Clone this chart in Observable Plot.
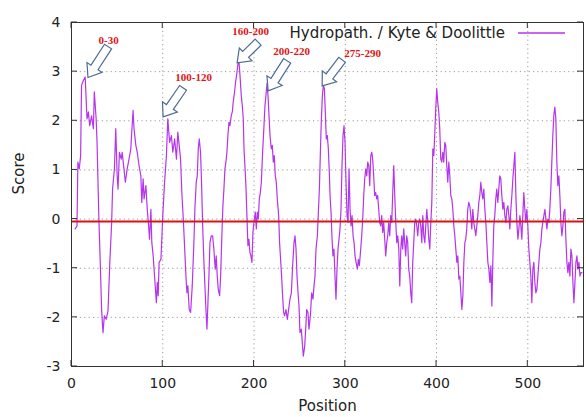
<!DOCTYPE html>
<html><head><meta charset="utf-8">
<script src="https://cdn.jsdelivr.net/npm/d3@7"></script>
<script src="https://cdn.jsdelivr.net/npm/@observablehq/plot@0.6"></script>
<style>html,body{margin:0;padding:0;background:#fff}#chart svg{display:block}</style>
</head><body><div id="chart"></div>
<script>
// Kyte & Doolittle hydropathy profile: [position, score]
const profile = [
[4,-0.2],[6,-0.14],[7,1.16],[8.5,1.02],[10,1.29],[11,2.72],[13,2.82],[15,2.89],[17,2.04],[18.5,2.18],[20,1.9],[22,2.1],[24,1.84],[25,2.59],[27,2.04],[28,1.56],[30,0],[31.5,-0.88],[33,-1.84],[34.5,-2.31],[36,-1.97],[38,-2.04],[40,-1.87],[42,-0.88],[44,-0.07],[45,0.61],[47,1.02],[48.5,1.84],[50,0.88],[51,0.61],[52.5,1.36],[54.5,1.22],[55.5,1.36],[57.5,1.02],[59,0.75],[61,1.02],[63,1.22],[65,1.43],[66,1.77],[67.5,2.21],[68.5,1.84],[70.5,1.5],[72,1.36],[74,1.09],[76,0.88],[77,0.34],[78.5,0.82],[79.5,0.41],[81.5,0.68],[83,0.2],[84.5,-0.14],[85.5,-0.41],[87,0.2],[88,-0.48],[89.5,-0.75],[91,-1.16],[92,-1.43],[93,-1.7],[94,-1.29],[95,-1.56],[96,-0.88],[98,-0.82],[100,0.07],[102,0.75],[104,1.29],[105.5,2.04],[107.5,1.56],[109.5,1.7],[111,1.36],[113,1.63],[115,1.22],[116.5,1.77],[118,1.5],[119.5,1.22],
[121,0.5],[122.5,0.0],[124,-0.6],[125.5,-1.2],[126.5,-1.5],[127.5,-1.36],[129,-1.84],[130.5,-1.9],[132.3,-1.36],[134.1,-0.48],[135.2,0.2],[136.7,0.75],[137.8,0.88],[138.9,1.43],[140,1.63],[141.4,1.36],[142.5,0.75],[143.6,-0.07],[145.1,-0.88],[146.2,-1.36],[147.3,-1.84],[148.4,-2.24],[149.5,-1.7],[150.6,-1.16],[151.7,-0.48],[153.1,-0.34],[154.6,-0.34],[156,-0.61],[157.5,-1.02],[158.6,-0.75],[159.7,-1.16],[160.8,-1.43],[162.3,-1.56],[163.4,-1.16],[164.5,-0.48],
[165.9,0.27],[167,0.61],[168.1,1.02],[169.2,1.16],[170.3,1.36],[171.4,1.7],[172.5,1.97],[173.6,1.9],[175.1,2.11],[176.2,2.18],[177.2,2.38],[178.7,2.59],[179.8,2.79],[180.9,2.93],[182.4,3.16],[183.5,3.2],[184.6,2.93],[186,2.52],[187.1,2.31],[188.2,2.04],[189,1.43],[190,1.09],[191.1,0.68],[192.2,0.07],[193.3,-0.54],[194.4,-0.41],[195.5,-0.68],[196.6,-0.75],[197.7,-0.88],[198.8,-0.27],[199.9,-0.07],[201.4,0.14],[202.5,-0.2],[203.6,0.14],[204.7,0],[205.8,0.41],[206.9,0.54],[208,0.75],[209.4,1.36],[210.9,1.9],[212,2.31],[213.1,2.52],[214.2,2.76],[215.3,2.52],[216.4,2.11],[217.5,1.7],[218.9,1.43],[220,1.5],[221.1,1.16],[222.2,1.29],[223.3,0.88],[224.4,0.75],[225.5,0.41],[227,0.07],[228,-0.48],[229.1,-0.82],[230.2,-1.16],[231.3,-1.56],[232.4,-1.9],[233.5,-1.97],[235,-1.84],[236.5,-2.04],[237.9,-1.84],[239.4,-1.63],[240.9,-1.5],[242.3,-0.95],[243.8,-0.48],[244.9,-0.34],[246,-0.61],[247.1,-1.16],[248.2,-1.5],[249.3,-1.77],[250.3,-2.31],[251.8,-2.24],[252.9,-2.52],[254,-2.79],[255.5,-2.59],[256.6,-2.24],[257.7,-1.84],[259.1,-1.9],[260.2,-2.24],[261.7,-1.97],
[263.2,-1.5],[264.6,-1.63],[265.7,-1.36],[266.8,-1.16],[267.9,-0.61],[269.4,-0.34],[270.5,0.14],[271.6,0.61],[272.7,1.36],[273.8,2.04],[274.9,2.52],[276,2.72],[277.1,2.65],[278.1,2.18],[279.2,1.63],[280.3,1.7],[281.4,1.43],[282.5,0.95],[283.3,0.48],[284.4,0.14],[285.5,-0.41],[286.5,-0.75],[287.6,-0.61],[288.7,-1.16],[289.8,-1.63],[290.9,-1.02],[292,-0.61],[293.1,-0.41],[294.2,-0.2],[295.3,0.2],[296.4,1.09],[297.5,1.7],[298.6,1.9],[299.7,1.56],[300.8,0.75],[301.9,0.07],[303,-0.07],[304.1,1.02],[305.2,0.2],[306.3,-0.14],[307.4,0.07],[308.5,-0.34],[309.6,-0.48],[310.7,-0.75],[311.8,-0.88],[313.2,-1.02],[314.3,-0.82],[315.4,-0.95],[316.9,-0.61],[318,-0.34],[319.1,0],[320.2,0.48],[321.3,0.82],[322.4,1.02],[323.5,0.88],[324.6,1.16],[325.7,1.09],[326.8,0.68],[327.9,1.29],[329,1.36],[330,1.22],[331.1,0.88],[332.2,0.48],[333.3,0.54],[334.4,0.41],[335.5,0.48],[336.6,0.2],[337.7,-0.07],[338.8,-0.14],[339.9,0.07],[341,-0.27],[342.1,-0.07],[343.2,-0.41],[344.3,-0.75],[345.4,-0.48],[346.5,-0.34],[347.6,-0.07],[348.7,-0.34],[349.8,0.07],[350.9,-0.07],[352,0.54],[353.1,1.09],[354.2,0.48],[355.3,-0.07],[356.4,-0.48],[357.5,-0.34],[358.6,-0.61],[359.7,-1.36],[360.8,-0.61],[361.8,-0.34],[362.9,-0.61],[364,-0.2],[365.1,-0.48],[366.2,-0.75],[367.3,-0.34],[368.4,-0.48],[369.5,-1.02],[370.6,-1.16],[371.7,-1.5],[372.8,-1.7],[373.9,-0.88],[375,-0.48],[376.1,-0.07],[377.2,0],[378.3,-0.14],[379.4,-0.34],[380.5,-0.07],[381.6,0],[382.7,-0.14],
[383.8,-0.48],[384.9,0.07],[386,-0.34],[387.1,-0.48],[388.2,-0.14],[389.3,0.2],[390.4,-0.07],[391.5,-0.41],[392.6,-0.61],[393.7,-0.07],[394.8,0.34],[395.9,1.43],[397,1.29],[398.1,1.77],[399.1,2.24],[400.2,2.65],[401.3,2.38],[402.4,2.18],[403.5,1.84],[404.6,1.22],[405.7,1.16],[406.8,1.36],[407.9,1.16],[409,1.56],[410.1,1.5],[411.2,1.09],[412.3,0.75],[413.4,1.16],[414.5,0.88],[415.6,0.48],[416.7,0.41],[417.8,0.2],[418.9,-0.14],[420,-0.34],[421.1,-0.61],[422.2,-0.88],[423.3,-0.75],[424.4,-1.22],[425.5,-1.16],[426.6,-1.5],[427.7,-1.84],[428.8,-1.56],[429.9,-0.88],[431,-0.48],[432,-0.41],[433.1,-0.2],[434.2,0.2],[435.3,0.34],[436.4,0.27],[437.5,0.07],[438.6,-0.2],[439.7,0.2],[440.8,-0.07],[441.9,-0.2],[443,-0.34],[444.1,-0.14],[445.2,0.07],[446.3,0.34],[447.4,0.48],[448.5,0.75],[449.6,0.54],[450.7,0.41],[451.8,0.61],[452.9,0.2],[454,-0.07],[455.1,-0.48],[456.2,-0.88],[457.3,-1.02],[458.4,-1.29],[459.5,-0.95],[460.6,-1.77],[461.6,-0.88],[462.7,-0.14],[463.8,0.07],[464.9,0.41],[466,0.61],[467.1,0.34],[468.2,0.61],[469.3,0.88],[470.4,0.82],[471.5,0.48],[472.6,0.2],[473.7,0.34],[474.8,0.07],[475.9,-0.07],[477,0.2],[478.1,0.27],[479.2,0.07],[480.3,-0.2],[481.4,0.2],[482.5,0.48],[483.6,0.82],[484.7,1.09],[485.8,1.36],[486.9,0.48],[488,-0.07],[489.1,-0.41],[490.2,-0.2],[491.3,0.07],[492.4,-0.14],[493.4,-0.41],[494.5,0.07],[495.6,0.54],[496.7,0.2],[497.8,-0.07],[498.9,0.2],[500,-0.14],[501.1,-0.61],[502.2,-0.88],[503.3,-1.16],[504.4,-1.7],[505.5,-1.02],[506.6,-0.88],[507.7,-1.29],[508.8,-1.5],[509.9,-1.43],[511,-1.16],[512.1,-0.88],[513.2,-0.61],[514.3,-0.48],[515.4,-0.2],[516.5,-0.07],[517.6,0.07],[518.7,0.2],[519.8,0],[520.9,-0.2],[522,0],[523.1,-0.07],[524.1,0.2],[525.2,0.61],[526.3,1.16],[527.4,1.7],[528.5,2.11],[529.6,2.28],[530.7,2.04],[531.8,1.16],[532.9,0.68],[534,0.88],[535.1,0.48],[536.2,-0.07],[537.3,-0.34],[538.4,-0.14],[539.5,0.14],[540.6,0.2],[541.7,-0.41],[542.8,-0.88],[543.9,-1.09],[545,-0.88],[546.1,-1.16],[547.2,-0.61],[548.3,-0.75],[549.4,-1.29],[550.5,-1.7],[551.6,-1.29],[552.7,-0.88],[553.8,-0.75],[554.9,-1.02],[556,-0.88],[557.1,-1.16],[558.2,-1.09],[559.3,-1.09]
];
const meanScore = -0.05;
const xTicks = [0, 100, 200, 300, 400, 500];
const yTicks = [-3, -2, -1, 0, 1, 2, 3, 4];
const xLabel = "Position";
const yLabel = "Score";
const seriesLabel = "Hydropath. / Kyte & Doolittle";
// annotated hydrophobic regions
const regionLabels = ["0-30", "100-120", "160-200", "200-220", "275-290"];
const regionLabelX = [40.6, 133.8, 196.3, 241.2, 319];
const regionLabelY = [3.64, 2.89, 3.82, 3.41, 3.37];
const arrowTailX = [40.6, 122.8, 205, 236.8, 297];
const arrowTailY = [3.5, 2.66, 3.59, 3.21, 3.23];
const arrowTipX = [18.6, 100.9, 182, 216, 275.2];
const arrowTipY = [2.87, 2.07, 3.17, 2.6, 2.7];

const data = profile.map(([position, score]) => ({position, score}));
const annotations = regionLabels.map((label, i) => ({
  label, x: regionLabelX[i], y: regionLabelY[i],
  x1: arrowTailX[i], y1: arrowTailY[i], x2: arrowTipX[i], y2: arrowTipY[i]
}));

const lineColor = "#b534ef";
const font = "DejaVu Sans";

function decorations(index, scales, values, dims) {
  const {x, y} = scales;
  const g = d3.create("svg:g");
  const L = dims.marginLeft, R = dims.width - dims.marginRight;
  const T = dims.marginTop, B = dims.height - dims.marginBottom;
  const tk = 6;
  // inward ticks on all four sides
  for (const t of xTicks) {
    const px = x(t);
    g.append("line").attr("x1", px).attr("x2", px).attr("y1", B).attr("y2", B - tk).attr("stroke", "#333");
    g.append("line").attr("x1", px).attr("x2", px).attr("y1", T).attr("y2", T + tk).attr("stroke", "#333");
  }
  for (const t of yTicks) {
    const py = y(t);
    g.append("line").attr("x1", L).attr("x2", L + tk).attr("y1", py).attr("y2", py).attr("stroke", "#333");
    g.append("line").attr("x1", R).attr("x2", R - tk).attr("y1", py).attr("y2", py).attr("stroke", "#333");
  }
  // legend
  g.append("text").attr("x", R - 78).attr("y", T + 11).attr("dy", "0.35em")
    .attr("text-anchor", "end").attr("font-size", 15).attr("font-family", font)
    .attr("fill", "#222").text(seriesLabel);
  g.append("line").attr("x1", R - 65).attr("x2", R - 18).attr("y1", T + 11).attr("y2", T + 11)
    .attr("stroke", lineColor).attr("stroke-width", 1.3);
  // block arrows
  for (const a of annotations) {
    const ax = x(a.x1), ay = y(a.y1), bx = x(a.x2), by = y(a.y2);
    const len = Math.hypot(bx - ax, by - ay);
    const ux = (bx - ax) / len, uy = (by - ay) / len;
    const nx = -uy, ny = ux;
    const w = 4.2, W = 9, hl = 12;
    const hx = bx - ux * hl, hy = by - uy * hl;
    const pts = [
      [ax + nx * w, ay + ny * w], [hx + nx * w, hy + ny * w], [hx + nx * W, hy + ny * W],
      [bx, by], [hx - nx * W, hy - ny * W], [hx - nx * w, hy - ny * w], [ax - nx * w, ay - ny * w]
    ];
    g.append("polygon").attr("points", pts.map(p => p.join(",")).join(" "))
      .attr("fill", "#fff").attr("stroke", "#4d6b91").attr("stroke-width", 1.2)
      .attr("stroke-linejoin", "miter");
  }
  return g.node();
}

const chart = Plot.plot({
  width: 586,
  height: 417,
  marginLeft: 71,
  marginRight: 3,
  marginTop: 22,
  marginBottom: 51,
  style: {fontFamily: font, color: "#222", background: "#fff"},
  x: {domain: [0, 561]},
  y: {domain: [-3, 4]},
  marks: [
    Plot.gridX({ticks: xTicks.filter(t => t > 0), stroke: "#9a9a9a", strokeOpacity: 1, strokeDasharray: "1.2,3.2"}),
    Plot.gridY({ticks: yTicks.filter(t => t > -3 && t < 4), stroke: "#9a9a9a", strokeOpacity: 1, strokeDasharray: "1.2,3.2"}),
    Plot.axisX({ticks: xTicks, tickSize: 0, tickPadding: 12, fontSize: 14, label: null, tickFormat: d => `${d}`}),
    Plot.axisY({ticks: yTicks, tickSize: 0, tickPadding: 11, fontSize: 14, label: null, tickFormat: d => `${d}`}),
    Plot.line(data, {x: "position", y: "score", stroke: lineColor, strokeWidth: 1.2}),
    Plot.ruleY([meanScore], {stroke: "#dd1111", strokeWidth: 2}),
    Plot.frame({stroke: "#333", strokeWidth: 1}),
    decorations,
    Plot.text(annotations, {x: "x", y: "y", text: "label", fill: "#e01515", fontSize: 11, fontWeight: "bold", fontFamily: "Liberation Serif"}),
    Plot.text([yLabel], {frameAnchor: "left", dx: -52, rotate: -90, fontSize: 15, fill: "#222"}),
    Plot.text([xLabel], {frameAnchor: "bottom", dy: 44, fontSize: 15, fill: "#222"})
  ]
});
document.getElementById("chart").appendChild(chart);
</script>
</body></html>
